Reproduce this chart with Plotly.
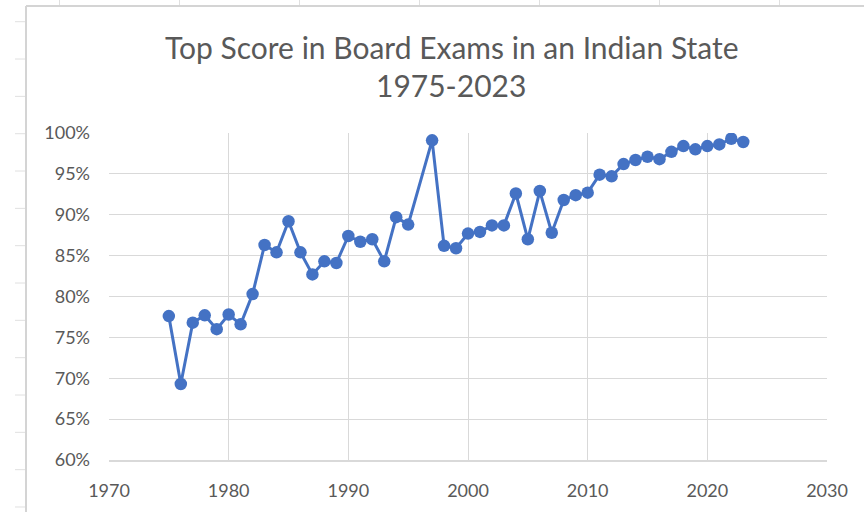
import plotly.graph_objects as go

years = [1975, 1976, 1977, 1978, 1979, 1980, 1981, 1982, 1983, 1984,
         1985, 1986, 1987, 1988, 1989, 1990, 1991, 1992, 1993, 1994,
         1995, 1997, 1998, 1999, 2000, 2001, 2002, 2003, 2004, 2005,
         2006, 2007, 2008, 2009, 2010, 2011, 2012, 2013, 2014, 2015,
         2016, 2017, 2018, 2019, 2020, 2021, 2022, 2023]
top_score_pct = [77.6, 69.3, 76.8, 77.7, 76.0, 77.8, 76.6, 80.3, 86.3, 85.4,
                 89.2, 85.4, 82.7, 84.3, 84.1, 87.4, 86.7, 87.0, 84.3, 89.7,
                 88.8, 99.1, 86.2, 85.9, 87.7, 87.9, 88.7, 88.7, 92.6, 87.0,
                 92.9, 87.8, 91.8, 92.4, 92.7, 94.9, 94.7, 96.2, 96.7, 97.1,
                 96.8, 97.7, 98.4, 98.0, 98.4, 98.6, 99.3, 98.9]
top_score = [v / 100 for v in top_score_pct]

title_line1 = "Top Score in Board Exams in an Indian State"
title_line2 = "1975-2023"

W, H = 864, 512
L, R, T, B = 109, 827, 133, 460  # plot area in pixels

def px(x):
    return (x - L) / (R - L)

def py(y):
    return (B - y) / (B - T)

FONT = "Lato, 'Open Sans', sans-serif"
TXT = "#595959"
GRID = "#d9d9d9"

fig = go.Figure()
fig.add_trace(go.Scatter(
    x=years, y=top_score, mode="lines+markers",
    line=dict(color="#4472C4", width=3),
    marker=dict(color="#4472C4", size=12.5),
    showlegend=False, hoverinfo="x+y",
))

shapes = []
# chart area border
shapes.append(dict(type="line", xref="paper", yref="paper",
                   x0=px(26), x1=px(W + 5), y0=py(6), y1=py(6),
                   line=dict(color="#d4d4d4", width=2)))
shapes.append(dict(type="line", xref="paper", yref="paper",
                   x0=px(26), x1=px(26), y0=py(6), y1=py(H + 5),
                   line=dict(color="#d4d4d4", width=2)))
# spreadsheet column lines above chart
for k in range(7):
    cx = 59.5 + 120 * k
    shapes.append(dict(type="line", xref="paper", yref="paper",
                       x0=px(cx), x1=px(cx), y0=py(0), y1=py(5),
                       line=dict(color="#e0e0e0", width=1)))
# spreadsheet row lines left of chart
for k in range(14):
    ry = 21.7 + 37.33 * k
    shapes.append(dict(type="line", xref="paper", yref="paper",
                       x0=px(15), x1=px(25), y0=py(ry), y1=py(ry),
                       line=dict(color="#e0e0e0", width=1)))

annotations = [
    dict(text=title_line1, xref="paper", yref="paper",
         x=px(451), y=py(47), xanchor="center", yanchor="middle",
         showarrow=False, font=dict(family=FONT, size=30, color=TXT)),
    dict(text=title_line2, xref="paper", yref="paper",
         x=px(451), y=py(85), xanchor="center", yanchor="middle",
         showarrow=False, font=dict(family=FONT, size=30, color=TXT)),
]

fig.update_layout(
    width=W, height=H,
    margin=dict(l=L, r=W - R, t=T, b=H - B, pad=0),
    paper_bgcolor="white", plot_bgcolor="white",
    font=dict(family=FONT, size=18, color=TXT),
    shapes=shapes, annotations=annotations,
    xaxis=dict(range=[1970, 2030], dtick=10, tick0=1970,
               showgrid=True, gridcolor=GRID, gridwidth=1.3,
               showline=True, linecolor=GRID, linewidth=1.5, mirror=False,
               zeroline=False, ticks="", ticklabelstandoff=14,
               tickfont=dict(family=FONT, size=18, color=TXT)),
    yaxis=dict(range=[0.6, 1.0], dtick=0.05, tick0=0.6, tickformat=".0%",
               showgrid=True, gridcolor=GRID, gridwidth=1.3,
               showline=False, zeroline=False, ticks="", ticklabelstandoff=18,
               tickfont=dict(family=FONT, size=18, color=TXT)),
)

fig.write_html("out.html",
               config={"displayModeBar": False},
               post_script="document.body.style.margin='0';document.body.style.padding='0';")
